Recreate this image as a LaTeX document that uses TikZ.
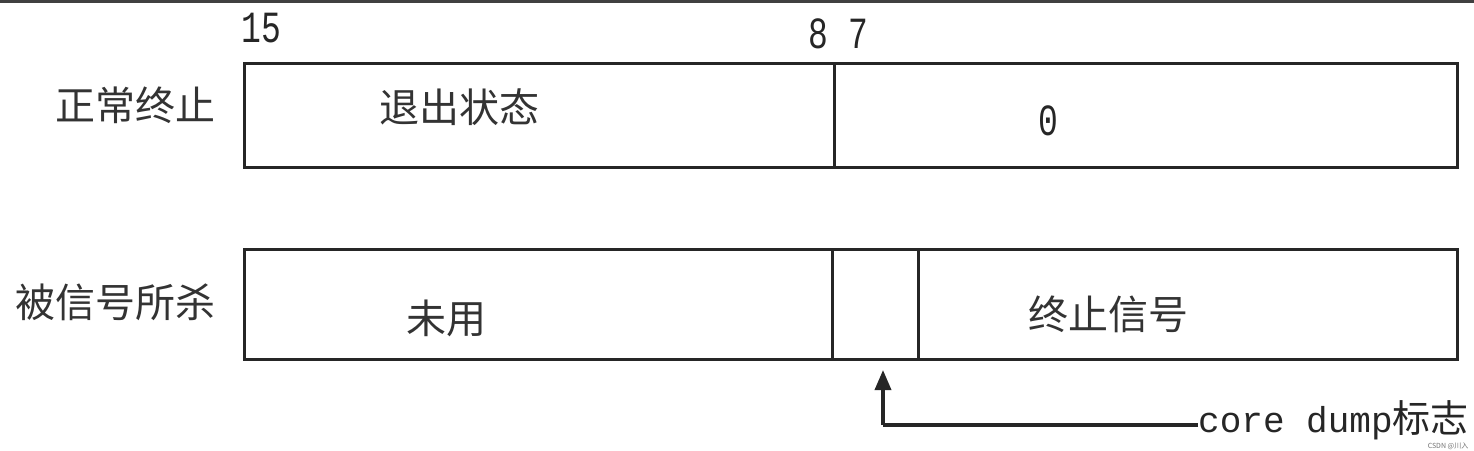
\documentclass[tikz,border=0pt]{standalone}
\usepackage{fontspec}
\setmainfont{Liberation Serif}
\newfontfamily\cjk{Noto Sans CJK SC}
\newfontfamily\mono{Liberation Mono}
\usetikzlibrary{arrows.meta}
\begin{document}
\begin{tikzpicture}[x=1pt,y=-1pt,
  field/.style={draw=black!85,line width=3pt,inner sep=0pt},
  cjklabel/.style={font=\cjk\fontsize{40}{40}\selectfont,text=black!80,inner sep=0pt},
  bitnum/.style={font=\mono\fontsize{33}{33}\selectfont,text=black!85,inner sep=0pt},
  conn/.style={draw=black!85,line width=3.5pt}]
\useasboundingbox (0,0) rectangle (1474,450);
\fill[white] (0,0) rectangle (1474,450);
\draw[black!75,line width=3pt] (0,1.5) -- (1474,1.5);
% top row
\node[field,minimum width=590pt,minimum height=104pt,anchor=north west] (exitfield) at (243,62) {};
\node[field,minimum width=623pt,minimum height=104pt,anchor=north west] (zerofield) at (833,62) {};
% bottom row
\node[field,minimum width=588pt,minimum height=110pt,anchor=north west] (unused) at (243,248) {};
\node[field,minimum width=86pt,minimum height=110pt,anchor=north west] (coreflag) at (831,248) {};
\node[field,minimum width=539pt,minimum height=110pt,anchor=north west] (sigfield) at (917,248) {};
% bit numbers
\node[bitnum] (b15) at (261,28) {\scalebox{1}[1.35]{15}};
\node[bitnum] (b8) at (818,34) {\scalebox{1}[1.35]{8}};
\node[bitnum] (b7) at (858,34) {\scalebox{1}[1.35]{7}};
% labels
\node[cjklabel] (normal) at (135,105) {正常终止};
\node[cjklabel] (killed) at (115,302) {被信号所杀};
\node[cjklabel] (exitst) at (459,107) {退出状态};
\node[bitnum] (zero) at (1048,121) {\scalebox{1}[1.35]{0}};
\node[cjklabel] (unusedt) at (446,318) {未用};
\node[cjklabel] (termsig) at (1108,314) {终止信号};
\node[inner sep=0pt,anchor=west,text=black!85] (core) at (1198,420)
  {\mono\fontsize{36}{36}\selectfont core dump\cjk\fontsize{38}{38}\selectfont 标志};
\node[inner sep=0pt,text=black!55,font=\cjk\fontsize{7}{7}\selectfont] (wm) at (1448,446) {CSDN @川入};
% connector
\coordinate (corner) at (883,425);
\coordinate (tip) at (883,370);
\draw[conn] (core.west |- corner) -- (corner);
\draw[conn,-{Triangle[length=20pt,width=16pt]}] (corner) -- (tip);
\end{tikzpicture}
\end{document}
